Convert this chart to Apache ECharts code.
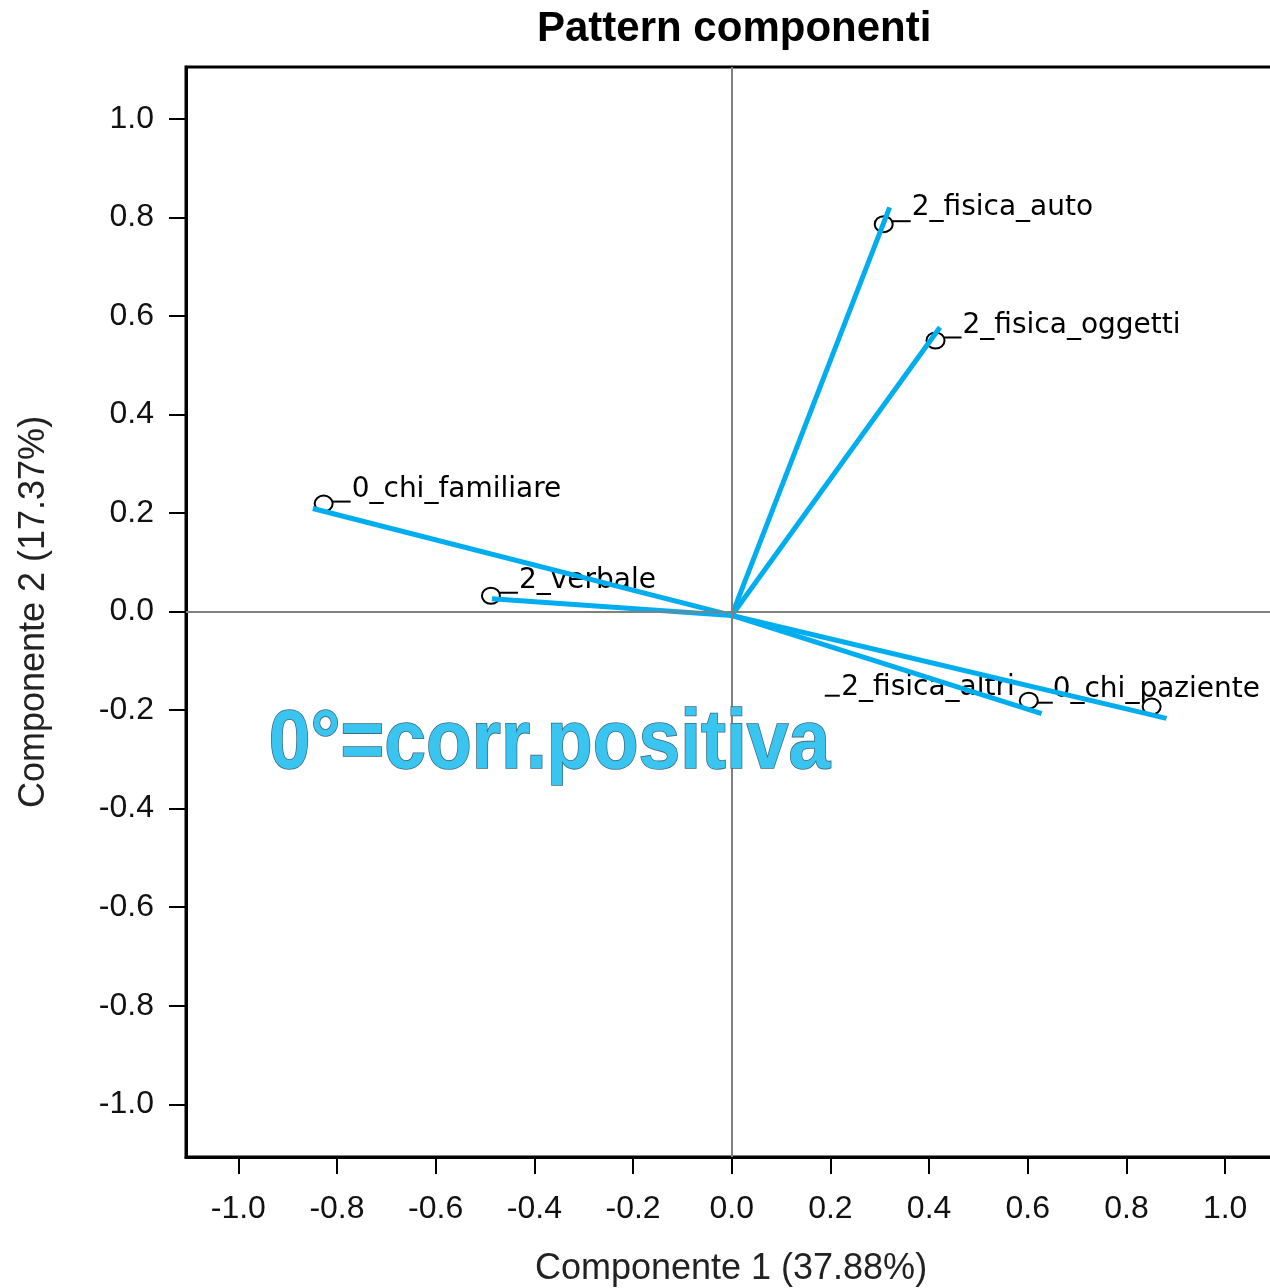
<!DOCTYPE html>
<html>
<head>
<meta charset="utf-8">
<script src="https://cdn.jsdelivr.net/npm/echarts@6/dist/echarts.min.js"></script>
<style>
  html, body { margin: 0; padding: 0; background: #fff; }
  #chart { width: 1270px; height: 1288px; }
</style>
</head>
<body>
<div id="chart"></div>
<script>
  // dati
  var varNames = ['2_fisica_auto', '2_fisica_oggetti', '0_chi_familiare', '2_verbale', '2_fisica_altri', '0_chi_paziente'];
  var loadX = [0.308, 0.413, -0.827, -0.488, 0.602, 0.851];
  var loadY = [0.786, 0.550, 0.219, 0.032, -0.181, -0.193];
  // estremi delle linee azzurre
  var arrowX = [0.320, 0.422, -0.849, -0.486, 0.628, 0.881];
  var arrowY = [0.820, 0.577, 0.209, 0.026, -0.207, -0.217];
  var origin = [0, -0.008];
  var tickValues = [-1.0, -0.8, -0.6, -0.4, -0.2, 0.0, 0.2, 0.4, 0.6, 0.8, 1.0];

  // posizione etichette (pixel relativi al cerchio)
  var labelPlace = {
    '2_fisica_auto':    { lead: [9, 27], ly: -3, tx: 28, ty: -8, align: 'left' },
    '2_fisica_oggetti': { lead: [9, 26], ly: -3, tx: 27, ty: -7, align: 'left' },
    '0_chi_familiare':  { lead: [9, 27], ly: -2, tx: 28, ty: -6, align: 'left' },
    '2_verbale':        { lead: [9, 27], ly: -3, tx: 28, ty: -7, align: 'left' },
    '2_fisica_altri':   { lead: [9, 24], ly: 2, tx: -14, ty: -5, align: 'right', under: [-204, -189] },
    '0_chi_paziente':   { lead: null, ly: 0, tx: -99, ty: -9, align: 'left' }
  };

  var chart = echarts.init(document.getElementById('chart'));

  var pointData = varNames.map(function (n, i) {
    return { name: n, value: [loadX[i], loadY[i]] };
  });
  var lineData = varNames.map(function (n, i) {
    return { coords: [origin, [arrowX[i], arrowY[i]]] };
  });

  function renderPoint(params, api) {
    var p = api.coord([api.value(0), api.value(1)]);
    var name = varNames[params.dataIndex];
    var cfg = labelPlace[name];
    var children = [{
      type: 'ellipse',
      shape: { cx: p[0], cy: p[1], rx: 9, ry: 8 },
      style: { fill: 'none', stroke: '#000', lineWidth: 2 }
    }];
    if (cfg.lead) {
      children.push({
        type: 'line',
        shape: { x1: p[0] + cfg.lead[0], y1: p[1] + cfg.ly, x2: p[0] + cfg.lead[1], y2: p[1] + cfg.ly },
        style: { stroke: '#000', lineWidth: 2 }
      });
    }
    if (cfg.under) {
      children.push({
        type: 'line',
        shape: { x1: p[0] + cfg.under[0], y1: p[1] + cfg.ty, x2: p[0] + cfg.under[1], y2: p[1] + cfg.ty },
        style: { stroke: '#000', lineWidth: 2 }
      });
    }
    children.push({
      type: 'text',
      style: {
        text: name,
        x: p[0] + cfg.tx,
        y: p[1] + cfg.ty + 6,
        font: '28px "DejaVu Sans"',
        fill: '#000',
        align: cfg.align,
        verticalAlign: 'bottom'
      }
    });
    return { type: 'group', children: children };
  }

  var axisFont = { fontSize: 32, fontFamily: 'Liberation Sans', color: '#111' };
  var nameFont = { fontSize: 36, fontFamily: 'Liberation Sans', color: '#222' };

  chart.setOption({
    animation: false,
    backgroundColor: '#fff',
    title: {
      text: 'Pattern componenti',
      left: 537,
      top: 8,
      padding: 0,
      textStyle: { fontSize: 42, fontWeight: 'bold', fontFamily: 'Liberation Sans', color: '#000' }
    },
    grid: {
      left: 186, top: 67, width: 1090, height: 1090,
      outerBoundsMode: 'none',
      containLabel: false,
      show: true, borderColor: '#000', borderWidth: 3
    },
    xAxis: {
      type: 'value',
      min: -1.106, max: 1.103,
      name: 'Componente 1 (37.88%)',
      nameLocation: 'middle',
      nameGap: 94,
      nameTextStyle: nameFont,
      axisLine: { show: true, onZero: false, lineStyle: { color: '#000', width: 3 } },
      axisTick: { show: true, customValues: tickValues, length: 17, lineStyle: { color: '#000', width: 2 } },
      axisLabel: Object.assign({ customValues: tickValues, margin: 36, formatter: function (v) { return v.toFixed(1); } }, axisFont),
      splitLine: { show: false }
    },
    yAxis: {
      type: 'value',
      min: -1.107, max: 1.105,
      name: 'Componente 2 (17.37%)',
      nameLocation: 'middle',
      nameGap: 134,
      nameTextStyle: nameFont,
      axisLine: { show: true, onZero: false, lineStyle: { color: '#000', width: 3 } },
      axisTick: { show: true, customValues: tickValues, length: 17, lineStyle: { color: '#000', width: 2 } },
      axisLabel: Object.assign({ customValues: tickValues, margin: 32, formatter: function (v) { return v.toFixed(1); } }, axisFont),
      splitLine: { show: false }
    },
    graphic: [{
      type: 'text',
      left: 268,
      top: 702,
      z: 10,
      scaleY: 1.12,
      style: {
        text: '0°=corr.positiva',
        font: 'bold 75px "Liberation Sans"',
        fill: '#3ac4f0',
        stroke: '#3d6a7e',
        lineWidth: 1.5,
        shadowColor: 'rgba(0,0,0,0.4)',
        shadowBlur: 4,
        shadowOffsetX: 3,
        shadowOffsetY: 4
      }
    }],
    series: [
      {
        // assi dello zero
        type: 'line',
        data: [],
        z: 1,
        silent: true,
        markLine: {
          symbol: 'none',
          silent: true,
          label: { show: false },
          lineStyle: { color: '#808080', width: 2, type: 'solid' },
          data: [{ xAxis: 0 }, { yAxis: 0 }]
        }
      },
      {
        type: 'custom',
        z: 2,
        data: pointData,
        renderItem: renderPoint
      },
      {
        type: 'lines',
        coordinateSystem: 'cartesian2d',
        z: 3,
        data: lineData,
        lineStyle: { color: '#00aeef', width: 5, opacity: 1 }
      }
    ]
  });
</script>
</body>
</html>
